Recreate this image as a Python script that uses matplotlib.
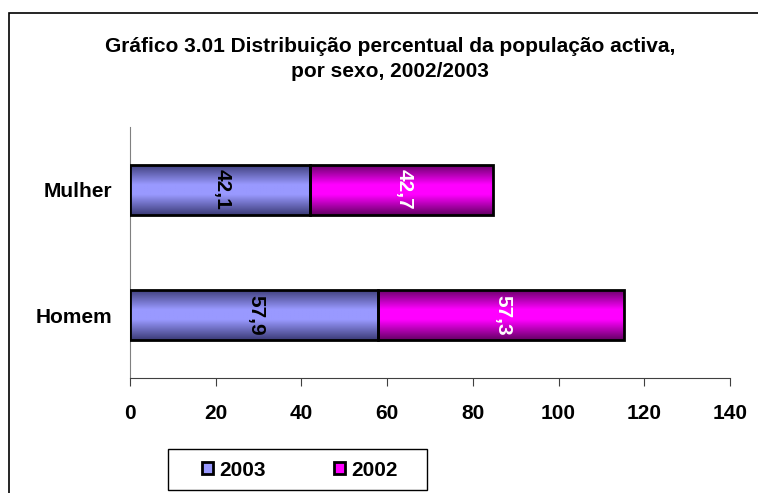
import numpy as np
import matplotlib.pyplot as plt
import matplotlib.patches as mpatches
from matplotlib.colors import LinearSegmentedColormap

plt.rcParams['font.family'] = ['Liberation Sans', 'DejaVu Sans']
plt.rcParams['font.weight'] = 'bold'

categorias = ['Homem', 'Mulher']
anos = ['2003', '2002']
v2003 = [57.9, 42.1]
v2002 = [57.3, 42.7]
rotulos_2003 = ['57,9', '42,1']
rotulos_2002 = ['57,3', '42,7']
xticks = [0, 20, 40, 60, 80, 100, 120, 140]

cor_2003 = ('#3c3c78', '#9999ff')
cor_2002 = ('#660066', '#ff00ff')

fig = plt.figure(figsize=(7.58, 4.93), dpi=100)
ax = fig.add_axes([130/758, 1-378/493, 600/758, 251/493])

# moldura do grafico
fig.patches.append(mpatches.Rectangle((9/758, -0.01), 1.0, 1-13/493+0.01,
                                      transform=fig.transFigure, fill=False,
                                      edgecolor='black', lw=1.2))

y = np.arange(len(categorias))
h = 0.4


def gradiente(bars, cores):
    cmap = LinearSegmentedColormap.from_list('g', [(0, cores[0]), (0.4, cores[1]),
                                                   (0.6, cores[1]), (1, cores[0])])
    grad = np.linspace(0, 1, 100).reshape(-1, 1)
    for b in bars:
        x0, y0 = b.get_x(), b.get_y()
        im = ax.imshow(grad, cmap=cmap, aspect='auto', interpolation='bilinear',
                       extent=[x0, x0 + b.get_width(), y0, y0 + b.get_height()], zorder=2)
        im.set_clip_path(b)
        b.set_facecolor('none')


b1 = ax.barh(y, v2003, height=h, edgecolor='black', lw=2, zorder=3)
b2 = ax.barh(y, v2002, left=v2003, height=h, edgecolor='black', lw=2, zorder=3)
gradiente(b1, cor_2003)
gradiente(b2, cor_2002)

for i in range(len(categorias)):
    ax.text(v2003[i] / 2 + 0.5, y[i], rotulos_2003[i], rotation=270, ha='center', va='center',
            fontsize=15, fontweight='bold', color='black', zorder=4)
    ax.text(v2003[i] + v2002[i] / 2 + 0.5, y[i], rotulos_2002[i], rotation=270, ha='center',
            va='center', fontsize=15, fontweight='bold', color='white', zorder=4)

ax.set_xlim(0, 140)
ax.set_ylim(-0.5, 1.5)
ax.set_xticks(xticks)
ax.set_xticklabels([str(t) for t in xticks], fontsize=15, fontweight='bold')
ax.set_yticks(y)
ax.set_yticklabels(categorias, fontsize=15, fontweight='bold')
ax.tick_params(axis='y', length=0, pad=13)
ax.tick_params(axis='x', length=6, direction='out', pad=13, color='#404040')
for s in ['top', 'right']:
    ax.spines[s].set_visible(False)
ax.spines['left'].set_color('#808080')
ax.spines['bottom'].set_color('#404040')

fig.text(390/758, 1-59/493, 'Gráfico 3.01 Distribuição percentual da população activa,\npor sexo, 2002/2003',
         ha='center', va='center', fontsize=15, fontweight='bold', linespacing=1.4)

# legenda com caixa desenhada a parte
fig.patches.append(mpatches.Rectangle((168/758, 1-490/493), 259/758, 41/493,
                                      transform=fig.transFigure, fill=False,
                                      edgecolor='black', lw=1))
handles = [mpatches.Patch(facecolor=cor_2003[1], edgecolor='black', lw=2),
           mpatches.Patch(facecolor=cor_2002[1], edgecolor='black', lw=2)]
fig.legend(handles, anos, loc='center', bbox_to_anchor=(300/758, 1-470/493),
           ncol=2, frameon=False, fontsize=15, handlelength=0.5,
           handleheight=0.5, handletextpad=0.3, columnspacing=3.3)

fig.savefig('out.png', dpi=100)
